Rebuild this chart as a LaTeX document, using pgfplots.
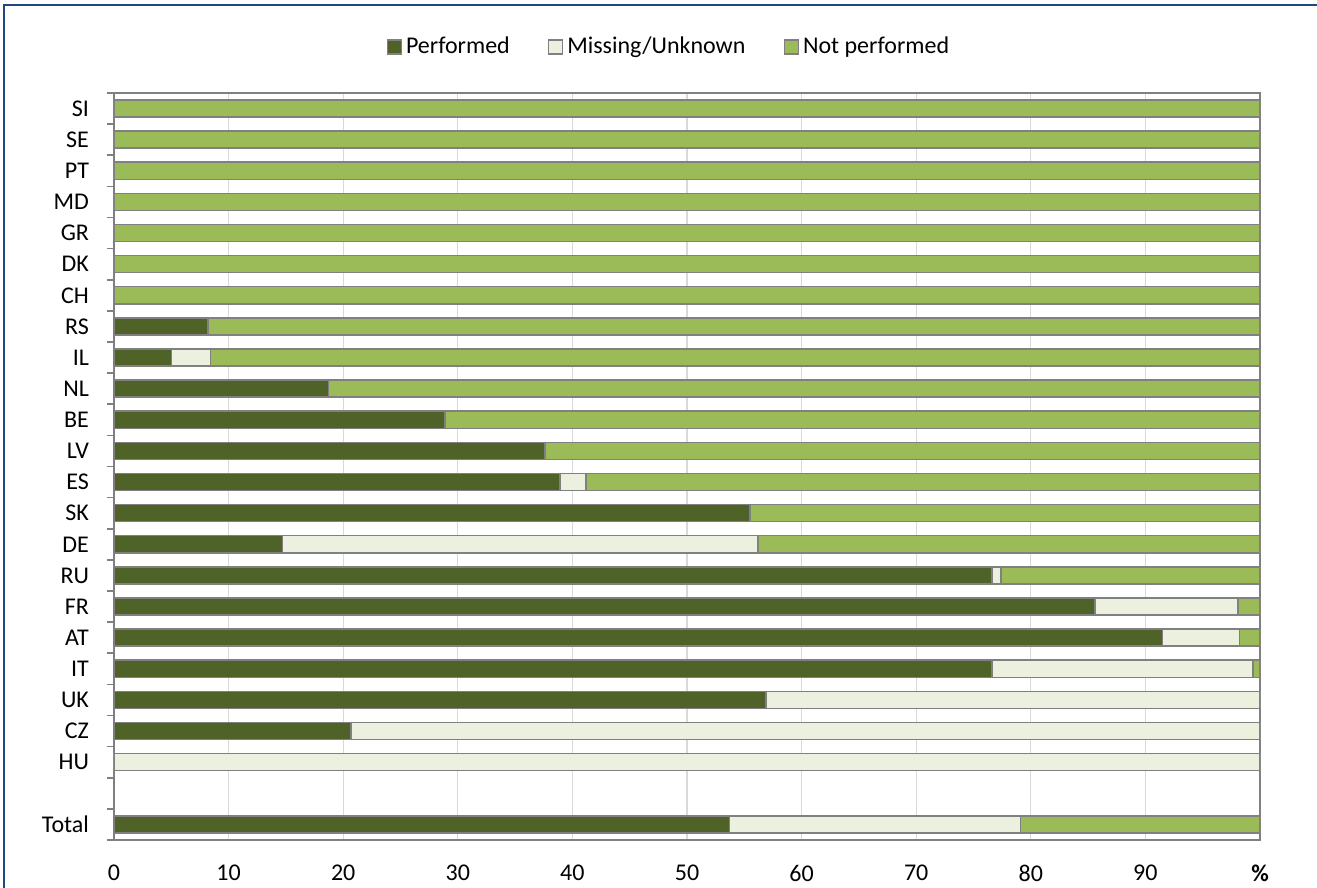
\documentclass[border=0pt]{standalone}
\usepackage{fontspec}
\setmainfont{Carlito}
\usepackage{pgfplots}
\usepackage{pgfplotstable}
\pgfplotsset{compat=1.18}

\definecolor{perf}{HTML}{4F6228}
\definecolor{miss}{HTML}{EBF1DE}
\definecolor{notp}{HTML}{9BBB59}
\definecolor{framec}{HTML}{1F497D}
\definecolor{edge}{HTML}{808080}
\definecolor{gridc}{HTML}{D9D9D9}

% y: 0 = Total, 1 = empty row, 2 = HU ... 23 = SI
\pgfplotstableread{
y  perf  miss  notp
0  53.7  25.4  20.9
2  0     100   0
3  20.7  79.3  0
4  56.9  43.1  0
5  76.6  22.8  0.6
6  91.5  6.7   1.8
7  85.6  12.5  1.9
8  76.6  0.8   22.6
9  14.7  41.5  43.8
10 55.5  0     44.5
11 38.9  2.3   58.8
12 37.6  0     62.4
13 28.9  0     71.1
14 18.7  0     81.3
15 5.0   3.4   91.6
16 8.2   0     91.8
17 0     0     100
18 0     0     100
19 0     0     100
20 0     0     100
21 0     0     100
22 0     0     100
23 0     0     100
}\datatable

\begin{document}
\begin{tikzpicture}
\useasboundingbox (0,0) rectangle (658.5pt,444pt);
\draw[framec, line width=1pt] (2pt,0) -- (2pt,441.5pt) -- (658.5pt,441.5pt);
\begin{axis}[
  at={(57pt,24pt)}, anchor=south west,
  scale only axis, width=573pt, height=373.5pt,
  xbar stacked, bar width=0.55,
  xmin=0, xmax=100, ymin=-0.5, ymax=23.5,
  xtick={0,10,...,100},
  xticklabels={0,10,20,30,40,50,60,70,80,90,\textbf{\%}},
  ytick={0,...,23},
  yticklabels={Total,,HU,CZ,UK,IT,AT,FR,RU,DE,SK,ES,LV,BE,NL,IL,RS,CH,DK,GR,MD,PT,SE,SI},
  minor ytick={-0.5,0.5,...,23.5},
  xtick pos=bottom, ytick pos=left,
  tick align=outside,
  major tick length=0pt, minor tick length=3.5pt,
  minor tick style={edge, line width=0.8pt},
  axis line style={edge, line width=1pt},
  xmajorgrids, major grid style={gridc, line width=0.6pt},
  tick label style={font=\fontsize{12}{14}\selectfont},
  xticklabel style={yshift=-9pt},
  yticklabel style={xshift=-9pt},
  legend columns=3,
  legend style={at={(0.485,1.0616)}, anchor=center, draw=none, fill=none,
    font=\fontsize{12}{14}\selectfont,
    /tikz/every even column/.append style={column sep=17pt}},
  legend image code/.code={\draw[#1] (0pt,-3.5pt) rectangle (7pt,3.5pt);},
  every axis plot/.append style={draw=edge, line width=0.75pt},
]
\addplot[fill=perf] table[x=perf, y=y] {\datatable};
\addplot[fill=miss] table[x=miss, y=y] {\datatable};
\addplot[fill=notp] table[x=notp, y=y] {\datatable};
\legend{Performed, Missing/Unknown, Not performed}
\end{axis}
\end{tikzpicture}
\end{document}
